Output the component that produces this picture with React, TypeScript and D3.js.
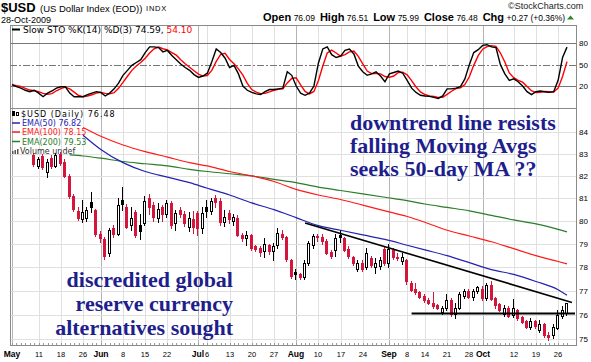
import React, { useEffect, useRef } from 'react';
import * as d3 from 'd3';

// trading calendar May 1 - Oct 28 2009
const holidays = ['2009-05-25', '2009-07-03', '2009-09-07'];
const fmt = d3.timeFormat('%Y-%m-%d');
const tradingDays: string[] = d3
  .timeDays(new Date(2009, 4, 1), new Date(2009, 9, 29))
  .filter(d => d.getDay() % 6 !== 0)
  .map(d => fmt(d))
  .filter(d => !holidays.includes(d));

// daily candles, starting 2009-05-08
const candleStart = '2009-05-08';
const opens = [
  82.95, 82.45, 82.9, 82.2, 82.8, 82.45, 83.0, 82.65, 82.0, 81.1,
  80.45, 80.1, 80.15, 80.85, 80.5, 79.45, 79.2, 78.6, 79.7, 79.45,
  80.95, 80.6, 79.85, 80.4, 79.85, 79.9, 81.0, 80.7, 80.15, 80.6,
  80.3, 80.8, 79.9, 80.5, 80.3, 79.75, 80.1, 80.35, 79.7, 80.6,
  80.45, 81.0, 80.9, 79.95, 80.35, 80.0, 80.15, 79.4, 79.25, 79.4,
  78.9, 78.85, 78.7, 78.95, 78.7, 78.95, 79.45, 79.3, 78.3, 77.8,
  77.7, 77.6, 78.2, 78.95, 79.35, 79.3, 79.15, 78.65, 78.75, 79.4,
  79.25, 78.8, 78.45, 77.95, 78.2, 78.0, 78.4, 78.0, 78.05, 78.8,
  78.2, 78.75, 78.45, 78.25, 78.3, 77.35, 77.1, 76.95, 76.8, 76.6,
  76.5, 76.4, 76.1, 76.3, 76.6, 76.05, 76.3, 76.8, 77.0, 76.75,
  77.0, 77.1, 76.7, 77.25, 76.7, 76.45, 76.05, 76.3, 76.0, 76.2,
  75.9, 75.75, 75.5, 75.75, 75.35, 75.6, 75.15, 75.15, 75.45, 75.95,
  76.09,
];
const highs = [
  83.05, 82.85, 83.0, 82.75, 82.95, 83.05, 83.1, 82.75, 82.1, 81.2,
  80.6, 80.95, 80.6, 81.3, 80.55, 79.55, 79.3, 79.7, 79.85, 81.0,
  81.5, 80.75, 80.6, 80.5, 80.3, 81.1, 81.2, 80.85, 80.8, 80.7,
  80.95, 80.9, 80.5, 80.6, 80.45, 80.4, 80.45, 80.45, 80.6, 80.95,
  81.0, 81.15, 81.0, 80.5, 80.5, 80.3, 80.25, 79.5, 79.55, 79.45,
  78.95, 78.9, 79.25, 79.0, 79.05, 79.7, 79.6, 79.35, 78.35, 77.95,
  77.75, 78.3, 79.15, 79.45, 79.45, 79.45, 79.2, 78.75, 79.45, 79.6,
  79.3, 78.9, 78.5, 78.3, 78.3, 78.85, 78.5, 78.4, 78.45, 78.9,
  79.0, 78.85, 78.6, 78.6, 78.35, 77.4, 77.35, 77.0, 76.85, 76.7,
  76.95, 76.45, 76.35, 76.85, 76.7, 76.5, 76.95, 77.1, 77.1, 77.1,
  77.2, 77.2, 77.35, 77.4, 76.75, 76.5, 76.4, 76.35, 76.65, 76.25,
  75.95, 75.8, 75.85, 75.8, 75.8, 75.65, 75.3, 75.6, 76.2, 76.35,
  76.51,
];
const lows = [
  82.45, 82.35, 82.3, 81.95, 82.35, 82.4, 82.5, 81.95, 81.0, 80.45,
  80.05, 79.95, 80.0, 80.4, 79.35, 79.1, 78.35, 78.5, 79.3, 79.4,
  80.5, 79.7, 79.6, 79.3, 79.2, 79.85, 80.3, 80.0, 79.95, 80.0,
  80.2, 79.7, 79.6, 80.2, 79.8, 79.55, 79.5, 79.4, 79.5, 80.2,
  80.3, 80.6, 79.85, 79.8, 79.9, 79.85, 79.35, 79.15, 78.95, 78.75,
  78.7, 78.5, 78.45, 78.55, 78.3, 78.85, 79.2, 78.25, 77.55, 77.5,
  77.5, 77.5, 78.1, 78.85, 79.15, 79.0, 78.55, 78.4, 78.5, 79.1,
  78.7, 78.4, 78.1, 77.85, 77.85, 77.95, 78.0, 77.75, 77.95, 78.1,
  78.0, 78.35, 78.3, 78.15, 77.3, 77.0, 76.85, 76.7, 76.55, 76.45,
  76.3, 76.25, 76.05, 76.2, 75.95, 75.85, 76.25, 76.7, 76.7, 76.6,
  76.9, 76.6, 76.6, 76.6, 76.3, 76.15, 75.95, 75.9, 75.9, 75.8,
  75.65, 75.45, 75.4, 75.45, 75.3, 75.1, 74.95, 75.05, 75.4, 75.85,
  75.99,
];
const closes = [
  82.55, 82.75, 82.4, 82.65, 82.45, 82.95, 82.6, 82.0, 81.1, 80.55,
  80.15, 80.4, 80.5, 80.6, 79.45, 79.25, 78.5, 79.6, 79.45, 80.7,
  80.75, 79.75, 80.15, 79.4, 79.55, 80.9, 80.6, 80.2, 80.55, 80.3,
  80.8, 79.85, 80.35, 80.3, 79.9, 80.15, 79.75, 79.7, 80.35, 80.45,
  80.9, 80.85, 79.95, 80.2, 80.1, 80.2, 79.4, 79.25, 79.4, 78.85,
  78.8, 78.65, 79.0, 78.7, 78.9, 79.5, 79.3, 78.35, 77.65, 77.7,
  77.6, 78.2, 79.05, 79.35, 79.3, 79.15, 78.6, 78.5, 79.25, 79.3,
  78.75, 78.5, 78.2, 78.2, 77.95, 78.6, 78.1, 78.2, 78.3, 78.2,
  78.8, 78.45, 78.4, 78.45, 77.4, 77.05, 76.95, 76.75, 76.6, 76.5,
  76.35, 76.3, 76.3, 76.6, 76.05, 76.3, 76.85, 77.0, 76.75, 77.0,
  77.15, 76.7, 77.25, 76.65, 76.4, 76.2, 76.3, 75.95, 76.3, 75.85,
  75.7, 75.5, 75.75, 75.55, 75.6, 75.15, 75.1, 75.5, 76.0, 76.21,
  76.48,
];

// moving averages read weekly
const emaDates = [
  '2009-05-20', '2009-05-26', '2009-06-01', '2009-06-08', '2009-06-15', '2009-06-22',
  '2009-06-29', '2009-07-06', '2009-07-13', '2009-07-20', '2009-07-27', '2009-08-03',
  '2009-08-10', '2009-08-17', '2009-08-24', '2009-08-31', '2009-09-08', '2009-09-14',
  '2009-09-21', '2009-09-28', '2009-10-05', '2009-10-12', '2009-10-19', '2009-10-26',
  '2009-10-28',
];
const ema50 = [
  null, 83.85, 83.2, 82.6, 82.2, 81.95, 81.7, 81.45, 81.15, 80.8, 80.5, 80.15,
  79.8, 79.6, 79.4, 79.2, 78.95, 78.75, 78.5, 78.2, 77.9, 77.7, 77.4, 77.05, 76.82,
];
const ema100 = [
  null, 84.2, 83.8, 83.4, 83.1, 82.85, 82.6, 82.45, 82.2, 82.0, 81.75, 81.4,
  81.15, 80.95, 80.7, 80.45, 80.2, 79.95, 79.6, 79.35, 79.1, 78.8, 78.5, 78.25, 78.15,
];
const ema200 = [
  82.95, 82.9, 82.8, 82.65, 82.55, 82.45, 82.3, 82.2, 82.1, 82.0, 81.85, 81.7,
  81.5, 81.35, 81.2, 81.05, 80.9, 80.75, 80.6, 80.45, 80.25, 80.05, 79.88, 79.64, 79.53,
];

// slow stochastic %K(14), one value per trading day from May 1
const stochK = [
  22, 19, 17, 14, 12, 14, 10, 5, 10, 13,
  17, 19, 19, 10, 5, 5, 5, 8, 10, 12,
  11, 6, 10, 16, 24, 35, 42, 49, 53, 57,
  67, 75, 75, 74, 68, 70, 63, 57, 51, 46,
  42, 36, 32, 34, 38, 54, 72, 67, 59, 46,
  49, 37, 20, 14, 11, 9, 8, 12, 15, 15,
  16, 17, 40, 35, 20, 10, 7, 10, 20, 52,
  72, 75, 64, 60, 62, 70, 72, 65, 48, 40,
  35, 37, 40, 34, 26, 37, 39, 41, 38, 28,
  17, 11, 7, 6, 5.5, 4, 2.5, 6, 16, 16,
  17, 19, 30, 50, 67, 71, 77, 78, 75, 74,
  50, 37, 28, 30, 26, 20, 12, 8, 12, 13,
  12, 11, 12, 28, 60, 74.59,
];

const priceTicks = [75, 76, 77, 78, 79, 80, 81, 82, 83, 84];
const stochLevels = [20, 50, 80];
const tickDates = [
  '2009-05-01', '2009-05-11', '2009-05-18', '2009-05-26', '2009-06-01', '2009-06-08',
  '2009-06-15', '2009-06-22', '2009-07-01', '2009-07-06', '2009-07-13', '2009-07-20',
  '2009-07-27', '2009-08-03', '2009-08-10', '2009-08-17', '2009-08-24', '2009-09-01',
  '2009-09-08', '2009-09-14', '2009-09-21', '2009-09-28', '2009-10-01', '2009-10-12',
  '2009-10-19', '2009-10-26',
];
const tickLabels = [
  'May', '11', '18', '26', 'Jun', '8', '15', '22', 'Jul', '6', '13', '20', '27',
  'Aug', '10', '17', '24', 'Sep', '8', '14', '21', '28', 'Oct', '12', '19', '26',
];

// drawn lines on the price panel
const trendFrom = { date: '2009-08-05', value: 79.92 };
const trendTo = { date: '2009-10-28', value: 76.58 };
const supportFrom = '2009-09-09';
const supportValue = 76.05;

const quote: [string, boolean][] = [
  ['Open', true], ['76.09', false], ['High', true], ['76.51', false], ['Low', true],
  ['75.99', false], ['Close', true], ['76.48', false], ['Chg', true], ['+0.27 (+0.36%)', false],
];
const noteRight = ['downtrend line resists', 'falling Moving Avgs', 'seeks 50-day MA ??'];
const noteLeft = ['discredited global', 'reserve currency', 'alternatives sought'];

const RED = '#d4163c';
const NAVY = '#1e1e8c';
const SANS = '"Liberation Sans", Arial, sans-serif';
const LEG = '"DejaVu Sans", Verdana, sans-serif';
const SERIF = '"Liberation Serif", "Times New Roman", serif';

const App: React.FC = () => {
  const svgRef = useRef<SVGSVGElement>(null);

  useEffect(() => {
    document.body.style.margin = '0';
    if (!svgRef.current) return;
    const svg = d3.select(svgRef.current);
    svg.selectAll('*').remove();

    const left = 10, right = 576;
    const sto = { top: 25, bottom: 108 };
    const pr = { top: 108, bottom: 345 };

    const x = d3.scalePoint<string>().domain(tradingDays).range([12, 567]);
    const y = d3.scaleLog().domain([74.754, 85.107]).range([pr.bottom, pr.top]);
    const ys = d3.scaleLinear().domain([-10.9, 105.7]).range([sto.bottom, sto.top]);
    const cx = (d: string) => Math.round(x(d) || 0);

    svg.append('rect').attr('width', 591).attr('height', 362).attr('fill', '#fff');

    // vertical grid in both panels
    const grid = svg.append('g').attr('shape-rendering', 'crispEdges');
    tickDates.forEach((d, i) => {
      const isMonth = isNaN(Number(tickLabels[i]));
      const gx = cx(d) + 0.5;
      [sto, pr].forEach(p => {
        grid.append('line')
          .attr('x1', gx).attr('x2', gx).attr('y1', p.top).attr('y2', p.bottom)
          .attr('stroke', isMonth ? '#b4b4b4' : '#e0e0e0');
      });
    });
    priceTicks.forEach(v => {
      const gy = Math.round(y(v)) + 0.5;
      grid.append('line').attr('x1', left).attr('x2', right).attr('y1', gy).attr('y2', gy)
        .attr('stroke', '#e0e0e0');
    });
    stochLevels.forEach(v => {
      const gy = Math.round(ys(v)) + 0.5;
      grid.append('line').attr('x1', left).attr('x2', right).attr('y1', gy).attr('y2', gy)
        .attr('stroke', '#777')
        .attr('stroke-dasharray', v === 50 ? '7,2,2,2' : null);
    });
    // daily ticks along the bottom
    tradingDays.forEach(d => {
      grid.append('line').attr('x1', cx(d) + 0.5).attr('x2', cx(d) + 0.5)
        .attr('y1', pr.bottom - 2).attr('y2', pr.bottom).attr('stroke', '#999');
    });

    // stochastic
    const stochD = stochK.map((_, i) => d3.mean(stochK.slice(Math.max(0, i - 2), i + 1)) as number);
    const sLine = d3.line<number>().x((_, i) => x(tradingDays[i]) || 0).y(v => ys(v));
    svg.append('path').attr('d', sLine(stochD)).attr('fill', 'none')
      .attr('stroke', '#ff0000').attr('stroke-width', 1.4);
    svg.append('path').attr('d', sLine(stochK)).attr('fill', 'none')
      .attr('stroke', '#000').attr('stroke-width', 1.4);

    // candles
    const startIdx = tradingDays.indexOf(candleStart);
    const cg = svg.append('g').attr('shape-rendering', 'crispEdges');
    opens.forEach((o, k) => {
      const c = closes[k], h = highs[k], l = lows[k];
      const prev = k > 0 ? closes[k - 1] : o;
      const col = c < prev ? RED : '#000';
      const px = cx(tradingDays[startIdx + k]);
      cg.append('line').attr('x1', px - 0.5).attr('x2', px - 0.5)
        .attr('y1', Math.round(y(h))).attr('y2', Math.round(y(l)) + 1).attr('stroke', col);
      const top = Math.round(y(Math.max(o, c)));
      const bot = Math.round(y(Math.min(o, c)));
      cg.append('rect').attr('x', px - 1.5).attr('width', 2)
        .attr('y', top + 0.5).attr('height', Math.max(bot - top, 1))
        .attr('fill', c > o ? '#fff' : col).attr('stroke', col);
    });

    // moving averages
    const emaLine = d3.line<number | null>()
      .defined(v => v != null)
      .x((_, i) => x(emaDates[i]) || 0)
      .y(v => y(v as number))
      .curve(d3.curveMonotoneX);
    [[ema200, '#2a7d2a'], [ema100, '#ff1a1a'], [ema50, '#2323b0']].forEach(([vals, col]) => {
      svg.append('path').attr('d', emaLine(vals as (number | null)[]))
        .attr('fill', 'none').attr('stroke', col as string).attr('stroke-width', 1.2);
    });

    // trend and support lines
    const tx1 = x(trendFrom.date) || 0, tx2 = (x(trendTo.date) || 0);
    const ty1 = y(trendFrom.value), ty2 = y(trendTo.value);
    const slope = (ty2 - ty1) / (tx2 - tx1);
    svg.append('line').attr('x1', tx1).attr('y1', ty1)
      .attr('x2', tx2 + 5).attr('y2', ty2 + 5 * slope)
      .attr('stroke', '#000').attr('stroke-width', 1.6);
    svg.append('line').attr('x1', x(supportFrom) || 0).attr('x2', right - 1)
      .attr('y1', y(supportValue)).attr('y2', y(supportValue))
      .attr('stroke', '#000').attr('stroke-width', 2);

    // panel frames
    [sto, pr].forEach(p => {
      svg.append('rect').attr('x', left + 0.5).attr('y', p.top + 0.5)
        .attr('width', right - left).attr('height', p.bottom - p.top)
        .attr('fill', 'none').attr('stroke', '#8a8a8a').attr('shape-rendering', 'crispEdges');
    });

    // y labels
    priceTicks.forEach(v => {
      svg.append('text').attr('x', 579).attr('y', y(v) + 3)
        .attr('font-family', SANS).attr('font-size', 8).attr('fill', '#000').text(String(v));
    });
    stochLevels.forEach(v => {
      svg.append('text').attr('x', 579).attr('y', ys(v) + 3)
        .attr('font-family', SANS).attr('font-size', 8).attr('fill', '#000').text(String(v));
    });

    // x labels
    tickDates.forEach((d, i) => {
      const isMonth = isNaN(Number(tickLabels[i]));
      svg.append('text').attr('x', Math.max(cx(d), 8)).attr('y', 357)
        .attr('text-anchor', 'middle').attr('font-family', SANS)
        .attr('font-size', isMonth ? 8.5 : 7.5).attr('font-weight', isMonth ? 'bold' : 'normal')
        .attr('fill', '#000').text(tickLabels[i]);
    });

    // stochastic legend
    svg.append('line').attr('x1', 12).attr('x2', 20).attr('y1', 29.5).attr('y2', 29.5)
      .attr('stroke', '#000').attr('stroke-width', 2);
    const sl = svg.append('text').attr('x', 23).attr('y', 33)
      .attr('font-family', LEG).attr('font-size', 9).attr('fill', '#000');
    sl.append('tspan').text('Slow STO %K(14) %D(3) 74.59, ');
    sl.append('tspan').attr('fill', '#ff0000').text('54.10');

    // price legend
    const lg = svg.append('g').attr('font-family', LEG).attr('font-size', 8);
    lg.append('rect').attr('x', 12.5).attr('y', 111.5).attr('width', 2).attr('height', 4).attr('fill', '#000').attr('stroke', '#000');
    lg.append('rect').attr('x', 16.5).attr('y', 112.5).attr('width', 2).attr('height', 3).attr('fill', '#fff').attr('stroke', '#000');
    lg.append('text').attr('x', 21).attr('y', 117).attr('letter-spacing', 1).attr('fill', '#000').text('$USD (Daily) 76.48');
    const rows: [string, string, number][] = [
      ['EMA(50) 76.82', '#2323b0', 126],
      ['EMA(100) 78.15', '#ff1a1a', 135],
      ['EMA(200) 79.53', '#2a7d2a', 144.5],
    ];
    rows.forEach(([t, col, by]) => {
      lg.append('line').attr('x1', 12).attr('x2', 20).attr('y1', by - 3).attr('y2', by - 3)
        .attr('stroke', col).attr('stroke-width', 1.5);
      lg.append('text').attr('x', 22).attr('y', by).attr('fill', col).text(t);
    });
    [0, 1, 2].forEach(b => {
      lg.append('rect').attr('x', 12 + b * 2.5).attr('y', 149 + (2 - b)).attr('width', 1.5)
        .attr('height', 4 - (2 - b) + 1).attr('fill', '#555');
    });
    lg.append('text').attr('x', 20).attr('y', 154).attr('fill', '#333').text('Volume undef');

    // annotations
    noteRight.forEach((t, i) => {
      svg.append('text').attr('x', 350).attr('y', 130 + i * 23)
        .attr('font-family', SERIF).attr('font-size', 22).attr('font-weight', 'bold')
        .attr('fill', NAVY).text(t);
    });
    noteLeft.forEach((t, i) => {
      svg.append('text').attr('x', 233).attr('y', 287 + i * 24).attr('text-anchor', 'end')
        .attr('font-family', SERIF).attr('font-size', 22).attr('font-weight', 'bold')
        .attr('fill', NAVY).text(t);
    });

    // header
    svg.append('text').attr('x', 1).attr('y', 11.5).attr('font-family', SANS)
      .attr('font-size', 13).attr('font-weight', 'bold').text('$USD');
    svg.append('text').attr('x', 40).attr('y', 11.5).attr('font-family', SANS)
      .attr('font-size', 9.5).text('(US Dollar Index (EOD))');
    svg.append('text').attr('x', 146).attr('y', 11).attr('font-family', SANS)
      .attr('font-size', 7.5).attr('letter-spacing', 0.8).text('INDX');
    svg.append('text').attr('x', 1).attr('y', 22.5).attr('font-family', SANS)
      .attr('font-size', 9).text('28-Oct-2009');
    svg.append('text').attr('x', 508).attr('y', 9).attr('font-family', SANS)
      .attr('font-size', 9).attr('fill', '#222').text('\u00a9StockCharts.com');
    const q = svg.append('text').attr('x', 263).attr('y', 20.5).attr('font-family', SANS).attr('fill', '#000');
    quote.forEach(([t, bold], k) => {
      q.append('tspan').attr('dx', k === 0 ? 0 : bold ? 5 : 2.5)
        .attr('font-size', bold ? 11 : 8.5).attr('font-weight', bold ? 'bold' : 'normal').text(t);
    });
    svg.append('path').attr('d', 'M567,19.5 L574,19.5 L570.5,15.5 Z').attr('fill', '#2a8a2a');
  }, []);

  return <svg ref={svgRef} width={591} height={362} style={{ display: 'block' }} />;
};

export default App;
